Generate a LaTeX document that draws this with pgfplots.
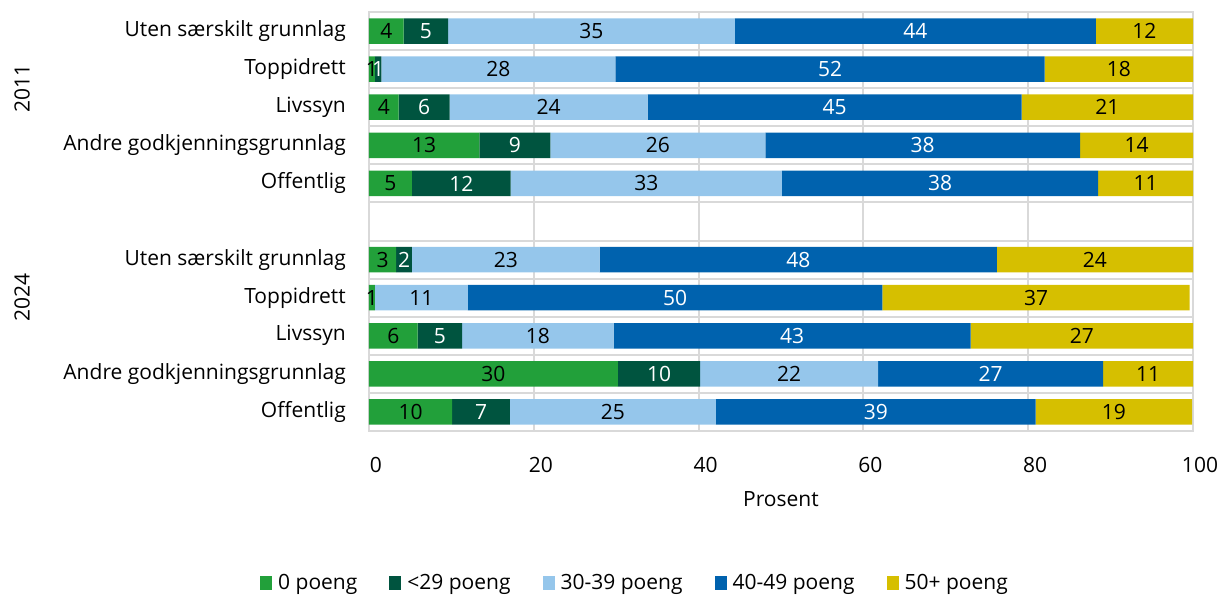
\documentclass[border=0pt]{standalone}
\usepackage{fontspec}
\setmainfont{Open Sans}
\usepackage{graphicx}
\usepackage{pgfplots}
\pgfplotsset{compat=1.18}
\usepackage{pgfplotstable}
\definecolor{cA}{HTML}{22A03A}
\definecolor{cB}{HTML}{00543F}
\definecolor{cC}{HTML}{95C6EB}
\definecolor{cD}{HTML}{0062AE}
\definecolor{cE}{HTML}{D6BF00}
\definecolor{gridgray}{HTML}{D9D9D9}
\newcommand{\ff}{\fontsize{21}{25}\selectfont}
\pgfplotstableread{
y a b c d e la lb lc ld le
0 4.2 5.4 34.8 43.8 11.8 4 5 35 44 12
1 0.7 0.8 28.4 52.1 18.0 1 1 28 52 18
2 3.6 6.2 24.0 45.4 20.8 4 6 24 45 21
3 13.4 8.6 26.1 38.2 13.7 13 9 26 38 14
4 5.2 12.0 32.9 38.4 11.5 5 12 33 38 11
6 3.3 1.9 22.8 48.2 23.8 3 2 23 48 24
7 0.7 0 11.3 50.3 37.3 1 {} 11 50 37
8 5.9 5.4 18.4 43.3 27.0 6 5 18 43 27
9 30.2 10.0 21.6 27.3 10.9 30 10 22 27 11
10 10.1 7.0 25.0 38.8 19.0 10 7 25 39 19
}\data
\pgfplotsset{
  seg/.style 2 args={fill=#1, draw=none,
    nodes near coords, point meta=explicit symbolic,
    nodes near coords align={center},
    every node near coord/.append style={anchor=center, font=\ff, text=#2, inner sep=0pt}},
}
\begin{document}
\begin{tikzpicture}
\useasboundingbox (-369pt,-163pt) rectangle (851pt,431pt);
\begin{axis}[
  at={(0pt,0pt)}, anchor=south west,
  scale only axis, width=824pt, height=419pt,
  clip=false,
  xbar stacked, bar width=0.67,
  y dir=reverse, ymin=-0.5, ymax=10.5,
  xmin=0, xmax=100, xtick={0,20,...,100},
  ytick={0,1,2,3,4,6,7,8,9,10},
  yticklabels={Uten særskilt grunnlag, Toppidrett, Livssyn, Andre godkjenningsgrunnlag, Offentlig,
               Uten særskilt grunnlag, Toppidrett, Livssyn, Andre godkjenningsgrunnlag, Offentlig},
  minor ytick={-0.5,0.5,...,10.5},
  yminorgrids=true, xmajorgrids=true, ymajorgrids=false,
  grid style={gridgray, line width=2pt},
  minor grid style={gridgray, line width=2pt},
  axis line style={gridgray, line width=2pt},
  major tick length=0pt, minor tick length=0pt,
  tick style={draw=none},
  tick label style={font=\ff},
  /pgf/number format/assume math mode=true,
  yticklabel style={inner sep=0pt, anchor=east, xshift=-23pt},
  xticklabel style={inner sep=0pt, anchor=north, yshift=-26pt, xshift=7pt},
  xlabel={Prosent},
  xlabel style={font=\ff, at={(axis description cs:0.5,0)}, anchor=north, inner sep=0pt, yshift=-60pt},
  legend columns=5,
  legend style={draw=none, font=\ff, at={(0.3228,0)}, anchor=center, yshift=-152pt,
    /tikz/every even column/.append style={column sep=30pt}},
  legend image code/.code={\fill[#1] (0pt,-7pt) rectangle (12pt,7pt); \path (16pt,0pt);},
]
\addplot[seg={cA}{black}] table[x=a, y=y, meta=la] {\data};
\addlegendentry{0 poeng}
\addplot[seg={cB}{white}] table[x=b, y=y, meta=lb] {\data};
\addlegendentry{<29 poeng}
\addplot[seg={cC}{black}] table[x=c, y=y, meta=lc] {\data};
\addlegendentry{30-39 poeng}
\addplot[seg={cD}{white}] table[x=d, y=y, meta=ld] {\data};
\addlegendentry{40-49 poeng}
\addplot[seg={cE}{black}] table[x=e, y=y, meta=le] {\data};
\addlegendentry{50+ poeng}
\node[rotate=90, font=\ff] at ([xshift=-347pt]axis cs:0,1.5) {2011};
\node[rotate=90, font=\ff] at ([xshift=-347pt]axis cs:0,7.0) {2024};
\end{axis}
\end{tikzpicture}
\end{document}
